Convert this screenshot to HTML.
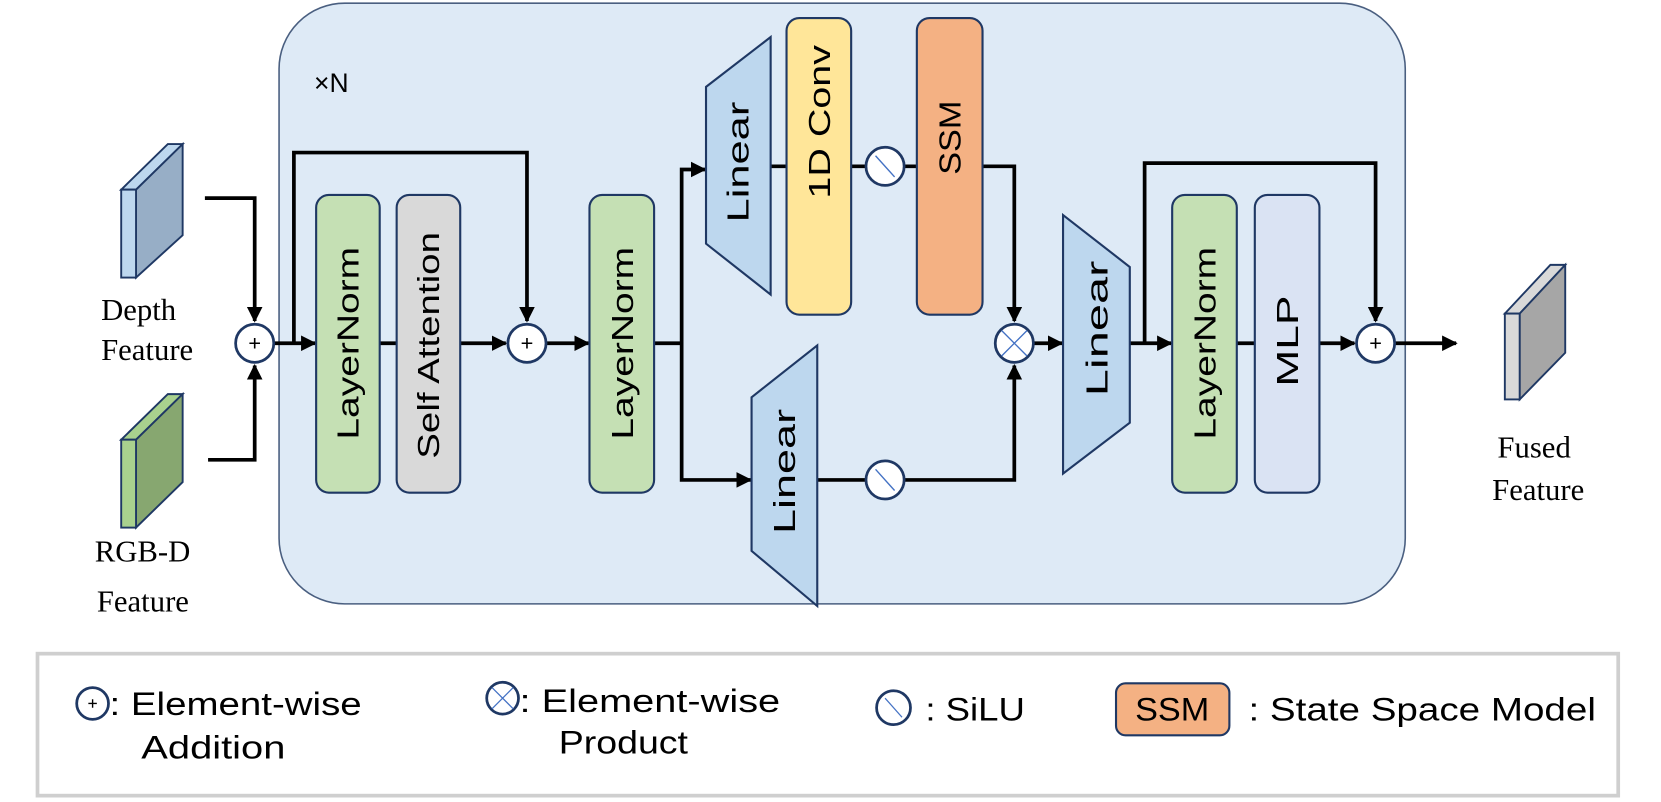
<!DOCTYPE html>
<html><head><meta charset="utf-8"><style>
html,body{margin:0;padding:0;background:#fff;}
svg{display:block;}
.s{font-family:"Liberation Sans","DejaVu Sans",sans-serif;fill:#000;}
.r{font-family:"Liberation Serif","DejaVu Serif",serif;fill:#000;font-size:29px;}
.ln{fill:none;stroke:#000;stroke-width:3.5;}
.c{fill:#fff;stroke:#1f3864;stroke-width:2.6;}
.bx{stroke:#1f3864;stroke-width:2;}
</style></head><body>
<svg width="1661" height="802" viewBox="0 0 1567 757" xmlns="http://www.w3.org/2000/svg">
<defs>
<marker id="a" viewBox="0 0 10 10" refX="9" refY="5" markerWidth="4.2" markerHeight="4.2" orient="auto" markerUnits="strokeWidth">
<path d="M0,0 L10,5 L0,10 z" fill="#000"/></marker>
</defs>
<rect width="1567" height="757" fill="#fff"/>
<rect x="263" y="3" width="1063" height="567" rx="62" fill="#deeaf6" stroke="#4a5f80" stroke-width="1.5"/>
<text x="296" y="87" class="s" font-size="25">×N</text>

<polygon points="114,179 158,136 172,136 128,179" fill="#bdd7ee" stroke="#1f3864" stroke-width="1.8"/>
<polygon points="128,179 172,136 172,222 128,262" fill="#97aec6" stroke="#1f3864" stroke-width="1.8"/>
<rect x="114" y="179" width="14" height="83" fill="#bdd7ee" stroke="#1f3864" stroke-width="1.8"/>
<polygon points="114,415 158,372 172,372 128,415" fill="#a9d18e" stroke="#1f3864" stroke-width="1.8"/>
<polygon points="128,415 172,372 172,455 128,498" fill="#87a770" stroke="#1f3864" stroke-width="1.8"/>
<rect x="114" y="415" width="14" height="83" fill="#a9d18e" stroke="#1f3864" stroke-width="1.8"/>
<polygon points="1420,296 1463,250 1477,250 1434,296" fill="#d9d9d9" stroke="#1f3864" stroke-width="1.8"/>
<polygon points="1434,296 1477,250 1477,333 1434,377" fill="#a6a6a6" stroke="#1f3864" stroke-width="1.8"/>
<rect x="1420" y="296" width="14" height="81" fill="#d9d9d9" stroke="#1f3864" stroke-width="1.8"/>

<text x="95" y="302" class="r">Depth</text>
<text x="95" y="340" class="r">Feature</text>
<text x="89" y="530" class="r">RGB-D</text>
<text x="91" y="577" class="r">Feature</text>
<text x="1413" y="432" class="r">Fused</text>
<text x="1408" y="472" class="r">Feature</text>

<path class="ln" d="M193,187 H240 V303" marker-end="url(#a)"/>
<path class="ln" d="M196,434 H240 V345" marker-end="url(#a)"/>
<path class="ln" d="M258,324 H297" marker-end="url(#a)"/>
<path class="ln" d="M277,324 V144 H497 V303" marker-end="url(#a)"/>
<path class="ln" d="M358,324 H374"/>
<path class="ln" d="M434,324 H477" marker-end="url(#a)"/>
<path class="ln" d="M515,324 H555" marker-end="url(#a)"/>
<path class="ln" d="M617,324 H643 V160 H665" marker-end="url(#a)"/>
<path class="ln" d="M643,324 V453 H708" marker-end="url(#a)"/>
<path class="ln" d="M727,157 H742 M803,157 H865"/>
<path class="ln" d="M927,157 H957 V303" marker-end="url(#a)"/>
<path class="ln" d="M771,453 H957 V345" marker-end="url(#a)"/>
<path class="ln" d="M975,324 H1002" marker-end="url(#a)"/>
<path class="ln" d="M1066,324 H1105" marker-end="url(#a)"/>
<path class="ln" d="M1080,324 V154 H1298 V303" marker-end="url(#a)"/>
<path class="ln" d="M1167,324 H1184"/>
<path class="ln" d="M1245,324 H1278" marker-end="url(#a)"/>
<path class="ln" d="M1316,324 H1374" marker-end="url(#a)"/>

<rect class="bx" x="298" y="184" width="60" height="281" rx="12" fill="#c5e0b4"/>
<rect class="bx" x="374" y="184" width="60" height="281" rx="12" fill="#d9d9d9"/>
<rect class="bx" x="556" y="184" width="61" height="281" rx="12" fill="#c5e0b4"/>
<rect class="bx" x="742" y="17" width="61" height="280" rx="12" fill="#ffe699"/>
<rect class="bx" x="865" y="17" width="62" height="280" rx="12" fill="#f4b183"/>
<rect class="bx" x="1106" y="184" width="61" height="281" rx="12" fill="#c5e0b4"/>
<rect class="bx" x="1184" y="184" width="61" height="281" rx="12" fill="#dae3f3"/>
<polygon class="bx" points="666,82 727,35 727,278 666,230" fill="#bdd7ee"/>
<polygon class="bx" points="709,375 771,326 771,572 709,520" fill="#bdd7ee"/>
<polygon class="bx" points="1003,203 1066,252 1066,399 1003,447" fill="#bdd7ee"/>

<g class="s" font-size="29" text-anchor="middle">
<text transform="translate(338,324) rotate(-90)" textLength="182" lengthAdjust="spacingAndGlyphs">LayerNorm</text>
<text transform="translate(414,326) rotate(-90)" textLength="214" lengthAdjust="spacingAndGlyphs">Self Attention</text>
<text transform="translate(597,324) rotate(-90)" textLength="182" lengthAdjust="spacingAndGlyphs">LayerNorm</text>
<text transform="translate(706,153) rotate(-90)" textLength="114" lengthAdjust="spacingAndGlyphs">Linear</text>
<text transform="translate(783,115) rotate(-90)" textLength="145" lengthAdjust="spacingAndGlyphs">1D Conv</text>
<text transform="translate(906,130) rotate(-90)" textLength="70" lengthAdjust="spacingAndGlyphs">SSM</text>
<text transform="translate(750,445) rotate(-90)" textLength="118" lengthAdjust="spacingAndGlyphs">Linear</text>
<text transform="translate(1045,310) rotate(-90)" textLength="128" lengthAdjust="spacingAndGlyphs">Linear</text>
<text transform="translate(1147,324) rotate(-90)" textLength="182" lengthAdjust="spacingAndGlyphs">LayerNorm</text>
<text transform="translate(1225,322) rotate(-90)" textLength="86" lengthAdjust="spacingAndGlyphs">MLP</text>
</g>

<g>
<circle class="c" cx="240" cy="324" r="18"/><path d="M235,324 h10 M240,319 v10" stroke="#000" stroke-width="1.5"/>
<circle class="c" cx="497" cy="324" r="18"/><path d="M492,324 h10 M497,319 v10" stroke="#000" stroke-width="1.5"/>
<circle class="c" cx="1298" cy="324" r="18"/><path d="M1293,324 h10 M1298,319 v10" stroke="#000" stroke-width="1.5"/>
<circle class="c" cx="957" cy="324" r="18"/><path d="M945,312 L969,336 M969,312 L945,336" stroke="#4472c4" stroke-width="1.3"/>
<circle class="c" cx="835" cy="157" r="18"/><path d="M826,147 L844,167" stroke="#4472c4" stroke-width="1.3"/>
<circle class="c" cx="835" cy="453" r="18"/><path d="M826,443 L844,463" stroke="#4472c4" stroke-width="1.3"/>
</g>

<rect x="35" y="617" width="1492" height="134" fill="#fff" stroke="#cfcfcf" stroke-width="3.5"/>
<circle class="c" cx="87" cy="664" r="15"/><path d="M83,664 h8 M87,660 v8" stroke="#000" stroke-width="1.3"/>
<circle class="c" cx="474" cy="659" r="15"/><path d="M464,649 L484,669 M484,649 L464,669" stroke="#4472c4" stroke-width="1.2"/>
<circle class="c" cx="843" cy="668" r="16"/><path d="M835,659 L851,677" stroke="#4472c4" stroke-width="1.2"/>
<rect class="bx" x="1053" y="645" width="107" height="49" rx="9" fill="#f4b183"/>
<g class="s" font-size="31">
<text x="103" y="675" textLength="238" lengthAdjust="spacingAndGlyphs">: Element-wise</text>
<text x="133" y="716" textLength="136" lengthAdjust="spacingAndGlyphs">Addition</text>
<text x="490" y="672" textLength="246" lengthAdjust="spacingAndGlyphs">: Element-wise</text>
<text x="527" y="711" textLength="122" lengthAdjust="spacingAndGlyphs">Product</text>
<text x="873" y="680" textLength="94" lengthAdjust="spacingAndGlyphs">: SiLU</text>
<text x="1106" y="680" text-anchor="middle" textLength="70" lengthAdjust="spacingAndGlyphs">SSM</text>
<text x="1178" y="680" textLength="328" lengthAdjust="spacingAndGlyphs">: State Space Model</text>
</g>
</svg>
</body></html>
